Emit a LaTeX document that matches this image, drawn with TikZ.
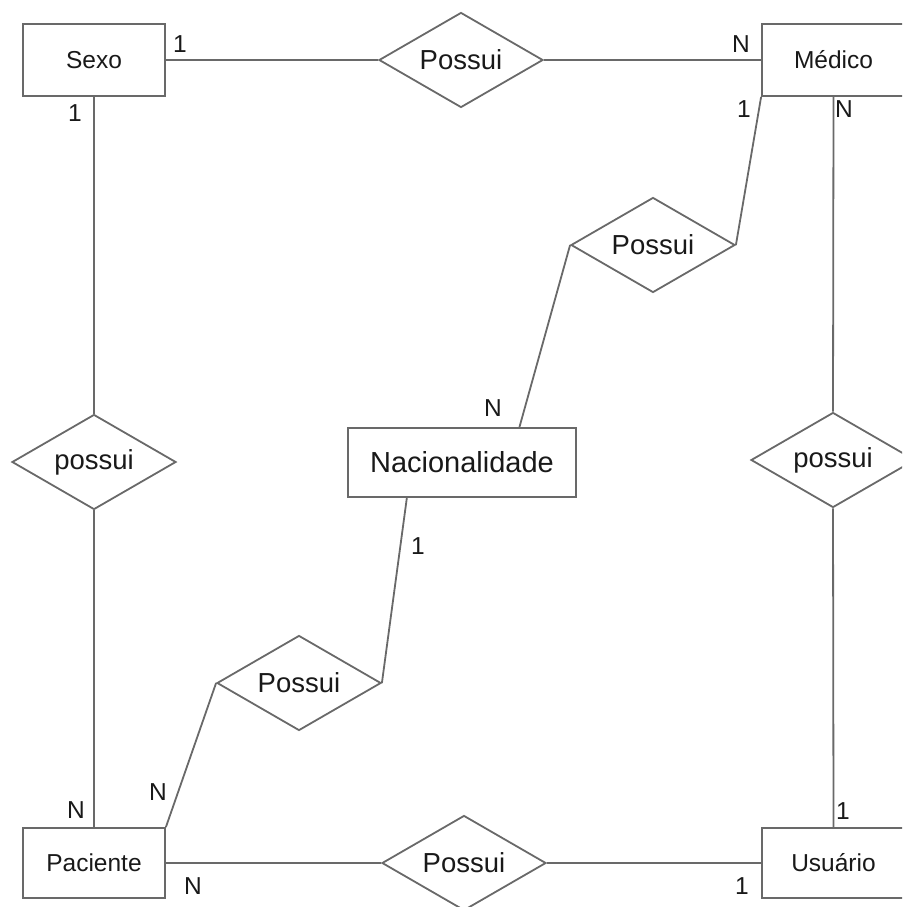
\documentclass[tikz,border=0pt]{standalone}
\usepackage{fontspec}
\setmainfont{Liberation Sans}
\usetikzlibrary{shapes.geometric,calc}
\definecolor{ln}{RGB}{105,105,105}
\definecolor{tx}{RGB}{25,25,25}
\begin{document}
\begin{tikzpicture}[x=1pt,y=-1pt,
  entity/.style={draw=ln,line width=1.8pt,minimum width=142pt,minimum height=72pt,inner sep=0pt,font=\fontsize{24.5}{28}\selectfont,text=tx},
  rel/.style={draw=ln,line width=1.8pt,diamond,aspect=1.73,inner sep=0pt,minimum width=164pt,minimum height=95pt,font=\fontsize{27.5}{32}\selectfont,text=tx},
  card/.style={inner sep=0pt,font=\fontsize{24.5}{28}\selectfont,text=tx},
  conn/.style={draw=ln,line width=1.8pt}]
\useasboundingbox (0,0) rectangle (902,907);
\clip (0,0) rectangle (902,907);
% entities
\node[entity] (sexo) at (94,60) {Sexo};
\node[entity,minimum width=143pt] (medico) at (833.5,60) {Médico};
\node[entity,minimum height=70pt] (paciente) at (94,863) {Paciente};
\node[entity,minimum width=143pt,minimum height=70pt] (usuario) at (833.5,863) {Usuário};
\node[entity,minimum width=228pt,minimum height=69pt,font=\fontsize{29}{34}\selectfont] (nac) at (462,462.5) {Nacionalidade};
% relationships
\node[rel] (r1) at (461,60) {Possui};
\node[rel] (r2) at (653,245) {Possui};
\node[rel] (r3) at (94,462) {possui};
\node[rel] (r4) at (833,460) {possui};
\node[rel] (r5) at (299,683) {Possui};
\node[rel] (r6) at (464,863) {Possui};
% connectors
\draw[conn] (sexo.east) -- (r1.west);
\draw[conn] (r1.east) -- (medico.west);
\draw[conn] (sexo.south) -- (r3.north);
\draw[conn] (r3.south) -- (paciente.north);
\draw[conn] (medico.south) -- (r4.north);
\draw[conn] (r4.south) -- (usuario.north);
\draw[conn] (medico.south west) -- (r2.east);
\draw[conn] (r2.west) -- ($(nac.north west)!0.75!(nac.north east)$);
\draw[conn] ($(nac.south west)!0.26!(nac.south east)$) -- (r5.east);
\draw[conn] (r5.west) -- (paciente.north east);
\draw[conn] (paciente.east) -- (r6.west);
\draw[conn] (r6.east) -- (usuario.west);
% cardinalities
\node[card] (c1) at (180,44) {1};
\node[card] (c2) at (75,113) {1};
\node[card] (c3) at (741,44) {N};
\node[card] (c4) at (744,109) {1};
\node[card] (c5) at (844,109) {N};
\node[card] (c6) at (493,408) {N};
\node[card] (c7) at (418,546) {1};
\node[card] (c8) at (76,810) {N};
\node[card] (c9) at (158,792) {N};
\node[card] (c10) at (193,886) {N};
\node[card] (c11) at (843,811) {1};
\node[card] (c12) at (742,886) {1};
\end{tikzpicture}
\end{document}
